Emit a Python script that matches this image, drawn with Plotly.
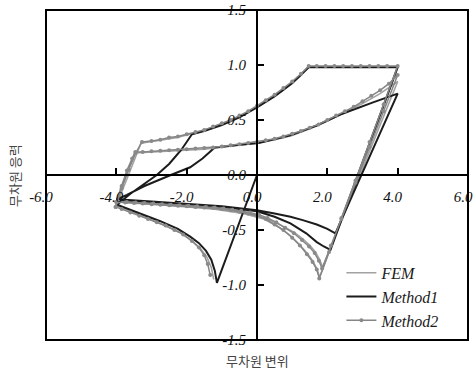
import plotly.graph_objects as go

# ---- FEM (plain gray) : branches in loading order ----
fem_L_x = [-1.23, -1.30, -1.42, -1.60, -1.85, -2.20, -2.70, -3.20, -3.60, -4.00]
fem_L_y = [-0.95, -0.84, -0.75, -0.67, -0.60, -0.52, -0.45, -0.38, -0.33, -0.28]
fem_U1_x = [-4.00, -3.30, -2.80, -2.30, -1.80, -1.30, -0.80, -0.30, 0.20, 0.70, 1.20, 1.47, 4.00]
fem_U1_y = [-0.28, 0.29, 0.315, 0.34, 0.38, 0.43, 0.49, 0.56, 0.66, 0.76, 0.89, 0.98, 0.98]
fem_R1_x = [1.78, 1.70, 1.58, 1.42, 1.20, 0.95, 0.60, 0.20, -0.40, -1.20, -2.00, -3.00, -4.00]
fem_R1_y = [-0.93, -0.85, -0.78, -0.71, -0.63, -0.55, -0.47, -0.40, -0.35, -0.31, -0.29, -0.265, -0.24]
fem_U2_x = [-4.00, -3.48, -2.50, -1.50, -0.50, 0.00, 0.50, 1.00, 1.50, 2.00, 2.50, 3.00, 3.50, 4.00]
fem_U2_y = [-0.24, 0.20, 0.215, 0.235, 0.27, 0.29, 0.32, 0.36, 0.42, 0.49, 0.57, 0.65, 0.74, 0.85]
fem_R2_x = [1.87, 1.78, 1.66, 1.50, 1.30, 1.05, 0.70, 0.30, -0.30, -1.20, -2.00, -3.00, -4.00]
fem_R2_y = [-0.84, -0.77, -0.70, -0.64, -0.58, -0.52, -0.46, -0.40, -0.35, -0.31, -0.285, -0.26, -0.235]

# ---- Method1 (black) ----
m1_L_x = [0.00, -1.14, -1.20, -1.30, -1.45, -1.65, -1.90, -2.25, -2.75, -3.25, -3.65, -3.98]
m1_L_y = [0.00, -0.98, -0.87, -0.77, -0.69, -0.62, -0.56, -0.49, -0.42, -0.36, -0.31, -0.27]
m1_U1_x = [-3.98, -3.60, -3.20, -2.85, -2.50, -2.15, -1.85, -1.50, -1.00, -0.50, 0.00, 0.50, 1.00, 1.47, 4.00]
m1_U1_y = [-0.27, -0.17, -0.08, 0.00, 0.10, 0.23, 0.37, 0.40, 0.455, 0.525, 0.615, 0.715, 0.835, 0.98, 0.98]
m1_R1_x = [2.09, 1.90, 1.70, 1.40, 0.95, 0.50, 0.00, -0.50, -1.00, -2.00, -3.00, -4.00]
m1_R1_y = [-0.68, -0.65, -0.61, -0.53, -0.44, -0.38, -0.33, -0.31, -0.29, -0.265, -0.245, -0.225]
m1_U2_x = [-4.00, -3.70, -3.20, -2.45, -1.90, -1.55, -1.20, -0.50, 0.05, 0.95, 1.70, 2.37, 3.00, 3.30, 4.00]
m1_U2_y = [-0.225, -0.18, -0.10, 0.00, 0.07, 0.15, 0.25, 0.275, 0.29, 0.36, 0.45, 0.55, 0.62, 0.66, 0.74]
m1_R2_x = [2.23, 2.00, 1.70, 1.30, 0.95, 0.50, 0.00, -1.00, -2.00, -3.00, -4.00]
m1_R2_y = [-0.53, -0.49, -0.45, -0.41, -0.38, -0.35, -0.32, -0.285, -0.26, -0.24, -0.22]

# ---- Method2 (gray with markers) ----
m2_L_x = [-1.33, -1.40, -1.50, -1.65, -1.85, -2.10, -2.35, -2.60,
          -2.85, -3.10, -3.35, -3.60, -3.85, -4.02]
m2_L_y = [-0.91, -0.81, -0.73, -0.66, -0.60, -0.54, -0.50, -0.46,
          -0.43, -0.40, -0.37, -0.34, -0.31, -0.29]
m2_U1_x = [-4.02, -3.85, -3.65, -3.45, -3.27, -3.00, -2.75, -2.50, -2.25, -2.00, -1.75, -1.50,
           -1.25, -1.00, -0.75, -0.50, -0.25, 0.00, 0.25, 0.50, 0.75, 1.00, 1.25, 1.47,
           1.70, 1.95, 2.20, 2.45, 2.70, 2.95, 3.20, 3.45, 3.70, 4.00]
m2_U1_y = [-0.29, -0.12, 0.05, 0.20, 0.30, 0.31, 0.32, 0.34, 0.35, 0.37, 0.39, 0.41,
           0.44, 0.47, 0.50, 0.54, 0.58, 0.63, 0.68, 0.73, 0.79, 0.85, 0.92, 0.99,
           0.99, 0.99, 0.99, 0.99, 0.99, 0.99, 0.99, 0.99, 0.99, 0.99]
m2_D1_x = [3.60, 3.20, 2.80, 2.40, 2.05]
m2_D1_y = [0.64, 0.30, -0.05, -0.39, -0.70]
m2_R1_x = [1.77, 1.70, 1.58, 1.42, 1.22, 1.00, 0.75, 0.50, 0.25, 0.00, -0.25, -0.50, -0.75,
           -1.00, -1.25, -1.50, -1.75, -2.00, -2.25, -2.50, -2.75, -3.00, -3.25, -3.50, -3.75, -4.00]
m2_R1_y = [-0.94, -0.86, -0.79, -0.72, -0.64, -0.57, -0.50, -0.45, -0.40, -0.37, -0.35, -0.335, -0.32,
           -0.31, -0.30, -0.295, -0.29, -0.285, -0.28, -0.275, -0.27, -0.265, -0.26, -0.255, -0.25, -0.245]
m2_U2_x = [-4.00, -3.85, -3.70, -3.55, -3.46, -3.25, -3.00, -2.75, -2.50, -2.25, -2.00, -1.75,
           -1.50, -1.25, -1.00, -0.75, -0.50, -0.25, 0.00, 0.25, 0.50, 0.75, 1.00, 1.25,
           1.50, 1.75, 2.00, 2.25, 2.50, 2.75, 3.00, 3.25, 3.50, 3.75, 4.00]
m2_U2_y = [-0.245, -0.10, 0.04, 0.15, 0.21, 0.21, 0.215, 0.22, 0.225, 0.23, 0.235, 0.24,
           0.245, 0.25, 0.26, 0.27, 0.28, 0.29, 0.30, 0.315, 0.33, 0.35, 0.375, 0.40,
           0.43, 0.46, 0.50, 0.54, 0.58, 0.62, 0.67, 0.72, 0.77, 0.83, 0.91]
m2_D2_x = [3.60, 3.20, 2.80, 2.40, 2.10]
m2_D2_y = [0.58, 0.255, -0.07, -0.40, -0.64]
m2_R2_x = [1.85, 1.76, 1.64, 1.48, 1.28, 1.05, 0.80, 0.55, 0.30, 0.05, -0.20, -0.45, -0.70,
           -0.95, -1.20, -1.45, -1.70, -1.95, -2.20, -2.45, -2.70, -2.95, -3.20, -3.45, -3.70, -3.95]
m2_R2_y = [-0.85, -0.78, -0.71, -0.65, -0.59, -0.53, -0.48, -0.43, -0.39, -0.36, -0.34, -0.325, -0.315,
           -0.305, -0.295, -0.29, -0.285, -0.28, -0.275, -0.27, -0.265, -0.26, -0.255, -0.25, -0.245, -0.24]

x_ticks = [-6, -4, -2, 0, 2, 4, 6]
x_tick_text = ["-6.0", "-4.0", "-2.0", "0.0", "2.0", "4.0", "6.0"]
y_ticks = [-1.5, -1.0, -0.5, 0.0, 0.5, 1.0, 1.5]
y_tick_text = ["-1.5", "-1.0", "-0.5", "0.0", "0.5", "1.0", "1.5"]


def path(*parts):
    xs, ys = [], []
    for px, py in parts:
        xs += list(px)
        ys += list(py)
    return xs, ys


fem_x, fem_y = path((fem_L_x, fem_L_y), (fem_U1_x, fem_U1_y), (fem_R1_x, fem_R1_y),
                    (fem_U2_x, fem_U2_y), (fem_R2_x, fem_R2_y))
m1_x, m1_y = path((m1_L_x, m1_L_y), (m1_U1_x, m1_U1_y), (m1_R1_x, m1_R1_y),
                  (m1_U2_x, m1_U2_y), (m1_R2_x, m1_R2_y))
m2_x, m2_y = path((m2_L_x, m2_L_y), (m2_U1_x, m2_U1_y), (m2_D1_x, m2_D1_y), (m2_R1_x, m2_R1_y),
                  (m2_U2_x, m2_U2_y), (m2_D2_x, m2_D2_y), (m2_R2_x, m2_R2_y))

fig = go.Figure()
fig.add_trace(go.Scatter(x=fem_x, y=fem_y, mode="lines", name="FEM",
                         line=dict(color="#a2a2a2", width=1.6)))
fig.add_trace(go.Scatter(x=m1_x, y=m1_y, mode="lines", name="Method1",
                         line=dict(color="#1c1c1c", width=2)))
fig.add_trace(go.Scatter(x=m2_x, y=m2_y, mode="lines+markers", name="Method2",
                         line=dict(color="#858585", width=1.5),
                         marker=dict(color="#8a8a8a", size=4, symbol="circle")))

tick_font = dict(family="Liberation Serif", size=15, color="#111111", style="italic")

fig.update_layout(
    width=474, height=376,
    margin=dict(l=46, r=6, t=10, b=36, autoexpand=False),
    paper_bgcolor="white", plot_bgcolor="white",
    showlegend=True,
    legend=dict(x=0.70, y=0.255, xanchor="left", yanchor="top",
                bgcolor="rgba(0,0,0,0)",
                font=dict(family="Liberation Serif", size=16, color="#1a1a1a", style="italic")),
    xaxis=dict(range=[-6, 6], anchor="free", position=0.5, showgrid=False, zeroline=False,
               showline=True, linecolor="black", linewidth=2, automargin=False,
               tickmode="array", tickvals=x_ticks, ticktext=x_tick_text,
               ticks="inside", ticklen=6, tickwidth=1.5, tickcolor="black",
               ticklabelstandoff=8, ticklabelshift=-5, ticklabeloverflow="allow",
               tickfont=tick_font),
    yaxis=dict(range=[-1.5, 1.5], anchor="free", position=0.5, showgrid=False, zeroline=False,
               showline=True, linecolor="black", linewidth=2, automargin=False,
               tickmode="array", tickvals=y_ticks, ticktext=y_tick_text,
               ticks="inside", ticklen=6, tickwidth=1.5, tickcolor="black",
               ticklabelstandoff=7, ticklabeloverflow="allow", tickfont=tick_font),
    shapes=[dict(type="rect", xref="paper", yref="paper", x0=0, x1=1, y0=0, y1=1,
                 line=dict(color="black", width=2))],
    annotations=[
        dict(text="무차원 변위", xref="paper", yref="paper", x=0.5, y=-0.062,
             xanchor="center", yanchor="middle", showarrow=False,
             font=dict(family="Noto Sans CJK KR", size=13, color="#444444")),
        dict(text="무차원 응력", xref="paper", yref="paper", x=-0.076, y=0.5,
             xanchor="center", yanchor="middle", showarrow=False, textangle=-90,
             font=dict(family="Noto Sans CJK KR", size=13, color="#444444")),
    ],
)

fig.write_html("out.html")
